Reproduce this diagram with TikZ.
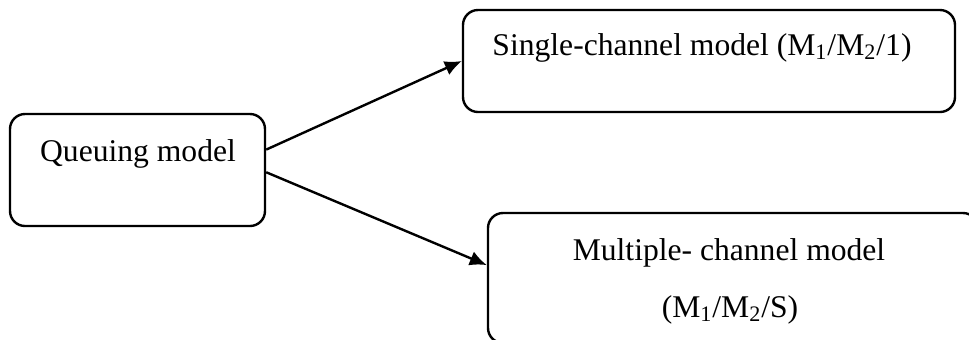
\documentclass[tikz,border=0pt]{standalone}
\usepackage{fontspec}
\setmainfont{Liberation Serif}
\usetikzlibrary{arrows.meta}

\begin{document}
\begin{tikzpicture}[x=0.5pt, y=-0.5pt, >={Latex[length=8.5pt,width=7.5pt]},
        box/.style={draw, line width=1.2pt, rounded corners=7.5pt, inner sep=0pt},
        txt/.style={anchor=base, inner sep=0pt, font=\fontsize{15.8}{18}\selectfont}]
        % Area del disegno
        \useasboundingbox (0,0) rectangle (969,339);

        % Riquadro di partenza
        \node[box, minimum width=127.5pt, minimum height=56pt] (queue) at (137.5,170) {};
        \node[txt] (queuetxt) at (138,161) {Queuing model};

        % Riquadro in alto (canale singolo)
        \node[box, minimum width=246pt, minimum height=51pt] (single) at (709,61) {};
        \node[txt] (singletxt) at (702,55) {Single-channel model (M\textsubscript{1}/M\textsubscript{2}/1)};

        % Riquadro in basso (canali multipli), tagliato dal bordo
        \node[box, minimum width=245pt, minimum height=65pt] (multi) at (733,278) {};
        \node[txt] (multitxt) at (729,260) {Multiple- channel model};
        \node[txt] (multisub) at (730,317) {(M\textsubscript{1}/M\textsubscript{2}/S)};

        % Frecce
        \draw[->, line width=1.2pt] (queue.9) -- (single.west);
        \draw[->, line width=1.2pt] (queue.-1) -- (multi.177);

    \end{tikzpicture}
\end{document}
